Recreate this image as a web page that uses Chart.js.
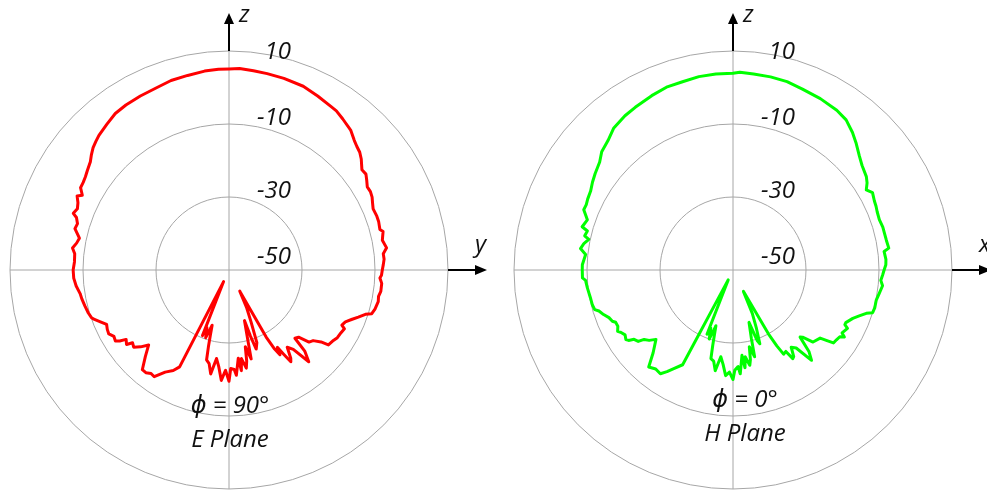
<!DOCTYPE html>
<html>
<head>
<meta charset="utf-8">
<script src="https://cdn.jsdelivr.net/npm/chart.js@4.4.1/dist/chart.umd.min.js"></script>
<style>
  html, body { margin: 0; padding: 0; background: #fff; }
  body { width: 987px; height: 491px; position: relative; overflow: hidden; }
  canvas { position: absolute; top: 0; }
  #ePlaneChart { left: 0; }
  #hPlaneChart { left: 493px; }
</style>
</head>
<body>
<canvas id="ePlaneChart" width="493" height="491"></canvas>
<canvas id="hPlaneChart" width="494" height="491"></canvas>
<script>
// theta in degrees, measured clockwise from +z (top of the plot)
const angleLabels = Array.from({ length: 360 }, (_, i) => i);
const rTicks = [-50, -30, -10, 10];

// [theta, gain dB]
const ePlane = [
  [0,5.1],[3,5.3],[7,5.0],[11,4.8],[16,4.6],[22,4.3],[27,3.5],[32,2.8],[34,2.6],[37,1.8],
  [41,0.8],[44,-0.6],[46,-1.3],[48,-1.8],[50,-2.7],[53,-4.4],[55,-4.2],[57,-5.0],[59,-5.8],[61,-5.7],
  [63,-6.0],[65,-6.6],[67,-7.1],[70,-6.9],[72,-6.9],[75,-7.2],[76,-6.5],[79,-7.2],[82,-6.4],[84,-7.5],
  [86,-7.4],[88,-7.7],[90,-8.0],[92,-8.2],[93,-8.6],[95,-8.0],[98,-8.0],[100,-8.4],[102,-8.2],[105,-8.6],
  [107,-9.1],[108,-10.7],[110,-12.3],[112,-13.8],[114,-15.1],[116,-15.6],[117,-14.5],[120,-14.9],[122,-15.0],[124,-15.5],
  [127,-15.9],[128,-18.0],[130,-19.9],[132,-20.5],[134,-23.5],[136,-24.0],[137,-19.5],[139,-16.7],[141,-22.0],[143,-23.5],
  [145,-20.5],[146,-19.7],[147,-22.5],[148,-25.0],[149,-22.9],[150,-25.0],[151,-29.0],[153,-43.5],[155,-38.5],[157,-34.5],
  [159,-28.7],[161,-27.1],[162,-30.9],[163,-35.5],[165,-30.0],[166,-24.9],[168,-28.5],[169,-24.6],[170,-22.7],[172,-25.5],
  [173,-22.2],[174,-25.7],[176,-21.1],[177,-22.7],[179,-23.0],[180,-19.5],[182,-22.5],[184,-19.7],[186,-23.3],[188,-25.5],
  [190,-21.1],[192,-23.8],[194,-24.6],[195,-28.2],[196,-31.5],[197,-34.2],[199,-30.4],[201,-33.1],[202,-30.6],[205,-46.5],
  [207,-20.2],[209,-18.5],[212,-17.0],[215,-14.3],[217,-14.5],[219,-13.8],[221,-13.8],[224,-17.0],[227,-19.9],[229,-17.9],
  [231,-16.4],[233,-16.9],[234,-15.3],[236,-16.0],[237,-14.3],[238,-13.3],[240,-13.6],[242,-12.7],[244,-12.9],[246,-13.3],
  [248,-12.0],[250,-10.6],[251,-10.1],[253,-9.7],[256,-9.3],[259,-8.9],[261,-8.7],[264,-7.9],[267,-7.4],[270,-7.3],
  [273,-7.6],[276,-7.5],[278,-6.7],[280,-7.6],[282,-8.1],[285,-6.3],[287,-6.6],[289,-5.8],[290,-4.6],[292,-5.2],
  [294,-4.7],[296,-3.7],[297,-4.9],[299,-3.5],[301,-3.4],[303,-3.1],[305,-2.6],[308,-1.8],[310,-0.8],[312,0.1],
  [314,0.7],[316,1.3],[320,2.1],[324,3.0],[328,3.3],[333,3.5],[338,3.7],[343,4.3],[348,4.5],[353,4.9],[357,5.1]
];

const hPlane = [
  [0,3.9],[2,4.2],[6,4.0],[11,3.9],[16,3.7],[21,3.1],[27,2.7],[33,2.2],[37,1.5],[41,-0.1],
  [44,-1.5],[48,-3.4],[51,-4.5],[55,-5.4],[57,-6.2],[59,-7.4],[61,-6.3],[64,-6.9],[66,-7.1],[68,-7.4],
  [71,-7.6],[74,-7.3],[76,-7.3],[79,-7.2],[82,-6.9],[83,-8.3],[86,-8.0],[88,-8.1],[90,-8.6],[92,-9.0],
  [94,-9.4],[96,-8.8],[99,-9.4],[102,-9.9],[105,-9.8],[107,-10.0],[108,-11.6],[110,-13.2],[112,-14.6],[115,-15.9],
  [116,-15.9],[117,-14.8],[120,-15.5],[121,-14.4],[122,-15.5],[124,-15.8],[126,-16.0],[127,-18.0],[128,-19.7],[132,-20.5],
  [134,-23.5],[135,-24.0],[137,-19.5],[139,-17.2],[141,-22.5],[143,-23.5],[145,-21.0],[146,-20.7],[147,-23.4],[149,-23.1],
  [150,-26.0],[151,-30.0],[154,-43.5],[156,-37.0],[158,-33.0],[160,-28.5],[161,-29.5],[162,-32.5],[163,-35.0],[165,-30.5],
  [166,-25.5],[168,-28.5],[169,-25.0],[170,-23.5],[172,-26.0],[173,-23.0],[174,-26.5],[176,-21.5],[177,-23.5],[179,-22.5],
  [180,-20.0],[182,-22.0],[184,-21.0],[186,-24.0],[188,-26.0],[190,-22.0],[192,-24.5],[194,-25.0],[195,-28.5],[196,-31.5],
  [197,-34.0],[199,-30.0],[201,-33.0],[202,-31.0],[206,-47.0],[208,-20.6],[211,-18.5],[213,-16.8],[215,-15.3],[218,-15.6],
  [221,-14.8],[224,-18.5],[228,-21.6],[230,-20.0],[232,-19.1],[233,-17.5],[235,-16.9],[236,-15.5],[237,-15.0],[239,-15.5],
  [241,-14.8],[242,-14.2],[244,-14.9],[246,-14.8],[247,-14.1],[249,-13.6],[251,-12.5],[253,-11.6],[254,-10.6],[256,-10.3],
  [259,-10.2],[263,-9.8],[266,-9.5],[267,-8.7],[270,-8.7],[272,-8.7],[276,-9.4],[278,-7.8],[280,-8.5],[282,-9.6],
  [283,-8.3],[285,-8.7],[286,-7.0],[289,-7.8],[292,-5.9],[294,-6.0],[296,-5.7],[299,-5.4],[302,-4.6],[305,-3.9],
  [309,-3.0],[312,-1.6],[316,-0.7],[320,0.8],[325,1.6],[329,2.0],[335,2.7],[340,3.3],[345,3.4],[350,3.8],[355,3.9]
];

function toSeries(pairs) {
  const out = new Array(angleLabels.length).fill(null);
  pairs.forEach(([deg, db]) => { out[deg] = db; });
  return out;
}

const gridGrey = '#a6a6a6';
const textFont = 'italic 24px "Open Sans", "DejaVu Sans", sans-serif';

// axes arrows, axis names, ring labels and the plane caption
function overlay(opts) {
  return {
    id: 'overlay',
    afterDraw(chart) {
      const ctx = chart.ctx;
      const s = chart.scales.r;
      const xc = s.xCenter, yc = s.yCenter, R = s.drawingArea;
      ctx.save();
      ctx.strokeStyle = '#000';
      ctx.fillStyle = '#000';
      ctx.lineWidth = 2;
      ctx.beginPath();
      ctx.moveTo(xc, yc - R); ctx.lineTo(xc, yc - R - 28);
      ctx.moveTo(xc + R, yc); ctx.lineTo(xc + R + 28, yc);
      ctx.stroke();
      ctx.beginPath();
      ctx.moveTo(xc, yc - R - 38); ctx.lineTo(xc - 5, yc - R - 27); ctx.lineTo(xc + 5, yc - R - 27); ctx.closePath();
      ctx.moveTo(xc + R + 39, yc); ctx.lineTo(xc + R + 27, yc - 5); ctx.lineTo(xc + R + 27, yc + 5); ctx.closePath();
      ctx.fill();

      ctx.font = textFont;
      ctx.fillStyle = '#111';
      ctx.textAlign = 'left';
      ctx.textBaseline = 'alphabetic';
      ctx.fillText('z', xc + 10, yc - R - 29);
      ctx.fillText(opts.hAxis, xc + R + 27, yc - 18);

      ctx.textAlign = 'right';
      ctx.textBaseline = 'middle';
      s.ticks.forEach((t, i) => {
        const d = s.getDistanceFromCenterForValue(t.value);
        let y = yc - d - 6;
        if (i === s.ticks.length - 1) y = yc - d + 1;
        if (i === 0) y -= 7;
        ctx.fillText(String(t.value), xc + 62, y);
      });

      ctx.textAlign = 'center';
      ctx.textBaseline = 'alphabetic';
      ctx.fillText(opts.caption[0], xc + opts.dx, yc + 143 + opts.dy);
      ctx.fillText(opts.caption[1], xc + opts.dx, yc + 177 + opts.dy);
      ctx.restore();
    }
  };
}

function makeChart(id, pairs, colour, pad, overlayOpts) {
  return new Chart(document.getElementById(id), {
    type: 'radar',
    data: {
      labels: angleLabels,
      datasets: [{
        data: toSeries(pairs),
        borderColor: colour,
        borderWidth: 3,
        borderJoinStyle: 'round',
        pointRadius: 0,
        fill: false,
        spanGaps: true,
        tension: 0
      }]
    },
    options: {
      responsive: false,
      animation: false,
      devicePixelRatio: 1,
      layout: { padding: pad },
      plugins: { legend: { display: false }, tooltip: { enabled: false } },
      scales: {
        r: {
          min: -50,
          max: 10,
          afterBuildTicks: scale => { scale.ticks = rTicks.map(v => ({ value: v })); },
          ticks: { display: false },
          pointLabels: { display: false },
          grid: { circular: true, color: gridGrey, lineWidth: 1 },
          angleLines: { color: gridGrey, lineWidth: c => (c.index % 90 === 0 ? 1 : 0) }
        }
      }
    },
    plugins: [overlay(overlayOpts)]
  });
}

makeChart('ePlaneChart', ePlane, '#ff0000',
  { left: 10, top: 51, right: 45, bottom: 2 },
  { hAxis: 'y', caption: ['\u03d5 = 90\u00b0', 'E Plane'], dx: 1, dy: 0 });

makeChart('hPlaneChart', hPlane, '#00ff00',
  { left: 21, top: 51, right: 35, bottom: 2 },
  { hAxis: 'x', caption: ['\u03d5 = 0\u00b0', 'H Plane'], dx: 12, dy: -6 });
</script>
</body>
</html>
